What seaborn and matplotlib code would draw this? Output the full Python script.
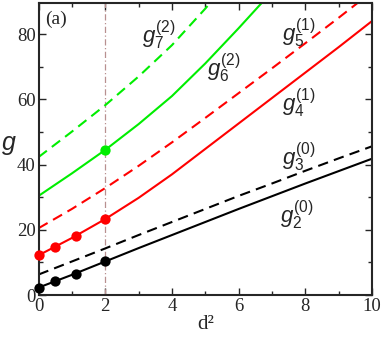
import matplotlib
matplotlib.use("Agg")
import matplotlib.pyplot as plt
from matplotlib.ticker import MultipleLocator
import seaborn as sns

# d^2 grid and curve values
d2 = [0, 1, 2, 3, 4, 5, 6, 7, 8, 9, 10]
g2 = [2.3, 6.2, 10.3, 14.4, 18.4, 22.4, 26.4, 30.3, 34.2, 38.0, 41.8]
g3 = [6.3, 10.3, 14.3, 18.4, 22.4, 26.4, 30.4, 34.2, 38.1, 41.9, 45.6]
g4 = [12.2, 17.5, 23.3, 29.8, 37.0, 44.8, 52.6, 60.4, 68.2, 76.0, 84.0]
g5 = [20.5, 26.4, 32.8, 39.6, 46.8, 54.3, 61.9, 69.5, 77.2, 85.0, 93.0]
d2_g6 = [0, 1, 2, 3, 4, 5, 6, 7]
g6 = [30.4, 37.3, 44.5, 52.4, 61.0, 71.0, 81.8, 93.0]
d2_g7 = [0, 1, 2, 3, 4, 5, 6]
g7 = [42.3, 50.1, 58.2, 67.0, 76.6, 87.8, 100.0]

# computed points (markers)
pts_d2 = [0, 0.5, 1.125, 2]
pts_black = [2.3, 4.4, 6.6, 10.4]
pts_red = [12.2, 14.6, 18.0, 23.3]
pts_green_d2 = [2]
pts_green = [44.5]

labels = [
    (r"$g^{\mathit{(2)}}_{\mathrm{7}}$", 3.1, 79.5),
    (r"$g^{\mathit{(2)}}_{\mathrm{6}}$", 5.05, 69.4),
    (r"$g^{\mathit{(1)}}_{\mathrm{5}}$", 7.3, 80.4),
    (r"$g^{\mathit{(1)}}_{\mathrm{4}}$", 7.3, 58.7),
    (r"$g^{\mathit{(0)}}_{\mathrm{3}}$", 7.3, 42.2),
    (r"$g^{\mathit{(0)}}_{\mathrm{2}}$", 7.25, 24.6),
]

sns.set_style("ticks")
plt.rcParams["font.family"] = ["Liberation Serif", "DejaVu Serif"]
plt.rcParams["mathtext.fontset"] = "custom"
plt.rcParams["mathtext.it"] = "Liberation Sans:italic"
plt.rcParams["mathtext.rm"] = "Liberation Sans"

GREEN = "#00ee00"
RED = "#ff0000"
BLACK = "#000000"

fig = plt.figure(figsize=(3.82, 3.38), dpi=100)
ax = fig.add_axes([0.101, 0.127, 0.873, 0.864])

ax.axvline(2, color="#b89090", lw=0.9, linestyle=(0, (5, 2, 1, 2)), zorder=1)

curves = [
    (d2, g2, BLACK, "-"),
    (d2, g3, BLACK, (0, (5, 3))),
    (d2, g4, RED, "-"),
    (d2, g5, RED, (0, (5, 3))),
    (d2_g6, g6, GREEN, "-"),
    (d2_g7, g7, GREEN, (0, (5, 3))),
]
for xs, ys, col, ls in curves:
    sns.lineplot(x=xs, y=ys, ax=ax, color=col, linestyle=ls, lw=1.5)

for xs, ys, col in [(pts_d2, pts_black, BLACK), (pts_d2, pts_red, RED),
                    (pts_green_d2, pts_green, GREEN)]:
    sns.scatterplot(x=xs, y=ys, ax=ax, color=col, s=55, edgecolor=col,
                    linewidth=0, zorder=5, clip_on=False)

for txt, x, y in labels:
    ax.text(x, y, txt, fontsize=16, ha="left", va="center")

ax.text(0.2, 84.5, "(a)", fontsize=14, ha="left", va="center")

ax.set_xlim(0, 10)
ax.set_ylim(0, 89.5)
ax.xaxis.set_major_locator(MultipleLocator(2))
ax.xaxis.set_minor_locator(MultipleLocator(1))
ax.yaxis.set_major_locator(MultipleLocator(20))
ax.yaxis.set_minor_locator(MultipleLocator(10))
ax.tick_params(which="both", direction="in", top=True, right=True,
               width=1.0, labelsize=13.5, pad=2)
ax.tick_params(which="major", length=5)
ax.tick_params(which="minor", length=3)
for sp in ax.spines.values():
    sp.set_linewidth(1.5)

ax.set_xlabel("d²", fontsize=15, labelpad=0)
ax.set_ylabel("g", fontsize=18, family="Liberation Sans", style="italic",
              rotation=0, va="center")
ax.yaxis.set_label_coords(-0.088, 0.52)

fig.savefig("out.png", dpi=100)
